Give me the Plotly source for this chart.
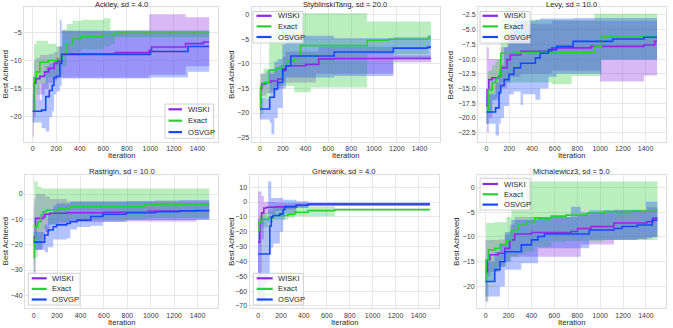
import plotly.graph_objects as go

# ---------------- data (iteration, mean, lower, upper) -----------------
METHODS = ["WISKI", "Exact", "OSVGP"]
TITLES = ["Ackley, sd = 4.0", "StyblinskiTang, sd = 20.0", "Levy, sd = 10.0",
          "Rastrigin, sd = 10.0", "Griewank, sd = 4.0", "Michalewicz3, sd = 5.0"]
X_TITLE = "Iteration"
Y_TITLE = "Best Achieved"
X_TICKS = [0, 200, 400, 600, 800, 1000, 1200, 1400]

ACKLEY_WISKI = [(0, -19, -23.5, -16), (10, -14, -20, -10), (25, -13.2, -17, -9.5), (60, -12.8, -16, -9),
                (100, -12, -15, -9), (135, -11.4, -14, -8.8), (180, -10.5, -13.5, -8.5), (210, -10.1, -13, -7.5),
                (250, -8.8, -13, -4.7), (700, -8.6, -13, -4.7), (990, -8.2, -12.5, -1.8), (1010, -7.6, -12.5, -1.8),
                (1300, -7.0, -11, -2.3), (1450, -6.7, -11, -2.3), (1500, -6.7, -11, -2.3)]
ACKLEY_EXACT = [(0, -19, -21, -16), (10, -13, -17, -7), (30, -12, -16, -6.5), (60, -10.3, -14, -6.5),
                (130, -10, -13, -7), (200, -9.8, -12.5, -7.5), (250, -8.8, -11, -4.5), (290, -7, -9, -3.5),
                (340, -6.2, -8.5, -3), (410, -5.8, -8, -2.8), (600, -5.5, -7.5, -2.5), (660, -5.5, -7, -4.7),
                (700, -5.1, -5.8, -4.6), (1500, -5.1, -5.8, -4.6)]
ACKLEY_OSVGP = [(0, -19, -21, -17), (75, -18.8, -22, -14), (110, -16.4, -22.6, -11), (140, -15.3, -20, -10.5),
                (165, -14.4, -19, -10.5), (180, -13, -16, -10), (200, -12.8, -15.5, -9.5), (230, -10.5, -14.5, -2.8),
                (245, -8.9, -13.2, -4.7), (1000, -8.4, -13, -4.7), (1320, -7.5, -12, -4.7), (1500, -7.5, -12, -4.7)]

STYB_WISKI = [(0, -19, -21, -17), (5, -15.1, -18, -12), (15, -14.1, -16.5, -12), (50, -13.8, -16, -11.5),
              (95, -13.5, -15.5, -11), (155, -13.1, -15, -10.5), (200, -11.4, -13.8, -8.5), (225, -10.4, -13.8, -7.5),
              (400, -10.1, -13.8, -7.5), (490, -10.1, -12, -7.5), (515, -9.0, -12, -6.5), (650, -8.9, -12, -6.5),
              (1170, -8.9, -9.7, -8.3), (1500, -8.9, -9.7, -8.3)]
STYB_EXACT = [(0, -19, -21, -17), (5, -14.5, -20.2, -12), (30, -13.8, -17, -11), (80, -11.3, -16, -3.9),
              (140, -10.9, -14.5, -2.9), (190, -10.4, -14.5, -2.9), (240, -9.4, -14.5, 0.3), (300, -8.7, -15.8, 0.3),
              (355, -6.3, -15.8, 0.3), (445, -6.3, -14.8, 0.3), (940, -5.2, -8, -1.4), (1130, -5.0, -8, -1.4),
              (1480, -4.6, -7, -1.4), (1500, -4.6, -7, -1.4)]
STYB_OSVGP = [(0, -19.2, -21.3, -17), (85, -16.8, -22, -12), (100, -16.8, -24.3, -12), (125, -15.1, -21, -9.5),
              (155, -13.8, -19, -9), (198, -11.1, -15, -6), (227, -10.4, -12.8, -4.3), (270, -8.4, -12.8, -4.3),
              (650, -7.6, -12.5, -4.8), (1170, -6.8, -9, -4.6), (1470, -6.6, -9, -4.2), (1500, -6.6, -9, -4.2)]

LEVY_WISKI = [(0, -18, -21, -16), (5, -15.2, -22.5, -8), (20, -13.5, -20, -10), (50, -13.2, -17, -10),
              (110, -12.9, -16, -10), (125, -11.5, -15, -8), (180, -10.1, -14, -6), (210, -9.3, -13, -5),
              (300, -8.7, -12.5, -4), (575, -8.1, -12, -3.5), (920, -7.85, -12, -3.5), (1000, -7.85, -13.8, -3.5),
              (1385, -7.6, -12.8, -3.5), (1480, -7.0, -12.8, -3.5), (1500, -7.0, -12.8, -3.5)]
LEVY_EXACT = [(0, -19, -21, -17), (15, -15.2, -19, -12), (50, -14, -17, -11), (80, -13.5, -16.5, -10.5),
              (95, -13.1, -16, -10.1), (125, -9, -14, -3.3), (255, -8.9, -14, -3.3), (575, -8.9, -14.3, -3.3),
              (750, -8.9, -12.9, -3.3), (950, -7.85, -12.9, -2.3), (1010, -6.2, -10.1, -2.3), (1500, -6.2, -10.1, -2.3)]
LEVY_OSVGP = [(0, -19, -21, -16), (80, -18.3, -23, -14), (110, -15.7, -21, -12), (125, -14.5, -20, -11),
              (155, -13.5, -18, -8), (197, -12.6, -16, -5.5), (240, -11.5, -15.5, -3.5), (300, -10.7, -17.8, -3.5),
              (320, -10.7, -16, -3.5), (430, -9.8, -16.9, -3.3), (473, -9.0, -15, -3.1), (545, -8.4, -13, -3.1),
              (617, -7.85, -12.5, -3.1), (762, -7.0, -12.5, -3.0), (1010, -7.0, -10.1, -3.0), (1110, -6.6, -10.1, -3.0),
              (1385, -6.3, -10.1, -3.0), (1500, -6.3, -10.1, -3.0)]

RAST_WISKI = [(0, -19, -42.7, -5), (5, -16.8, -31, -2), (15, -9.6, -22, 0), (80, -9.2, -18, 0),
              (95, -8, -15, -1), (137, -7.6, -12, -2), (283, -7.4, -11, -3), (600, -7.2, -10.8, -3),
              (980, -6.7, -10.8, -3), (1390, -6.5, -10, -3), (1500, -6.5, -10, -3)]
RAST_EXACT = [(0, -25, -28, -22), (5, -18, -31, 5), (15, -12.9, -25, 4.9), (35, -10.9, -22, 3),
              (64, -8.3, -18, 2.2), (80, -7.0, -14, 2.2), (108, -6.3, -12, 2.2), (210, -5.7, -11, 2.2),
              (312, -5.0, -10, 2.2), (950, -4.1, -9.5, 2.2), (1500, -4.1, -9.5, 2.2)]
RAST_OSVGP = [(0, -19, -22, -15), (93, -16.2, -23, -12), (122, -14.2, -21, -8), (166, -12.9, -18, -4.5),
              (195, -12.2, -18, -3.7), (283, -11.6, -17.5, -3.7), (312, -10.9, -14, -3), (370, -10.3, -13, -3),
              (487, -8.9, -12.5, -3), (590, -8.0, -11, -3), (790, -7.4, -10.3, -2.8), (1040, -7.0, -10.3, -2.6),
              (1245, -6.6, -10.3, -2.4), (1500, -6.6, -10.3, -2.4)]

GRIE_WISKI = [(0, -27, -62, 7.1), (15, -14, -50, 7.1), (30, -7.3, -25, 4), (50, -4, -12, 0),
              (75, -3.5, -8, 0), (150, -3.3, -6, -0.5), (233, -2.9, -5, -0.5), (330, -2.2, -3.5, -0.5),
              (440, -1.7, -2.5, -0.8), (1500, -1.7, -2.5, -0.8)]
GRIE_EXACT = [(0, -19, -24, -13), (10, -14, -19, -9), (29, -11.8, -17, -7.3), (88, -10.7, -14, -6),
              (131, -9.1, -12, -4), (262, -8.4, -10.5, -4), (320, -6.9, -9.6, -2.9), (437, -5.8, -9.6, -2.9),
              (670, -5.1, -5.6, -4.5), (1500, -5.1, -5.6, -4.5)]
GRIE_OSVGP = [(0, -35, -67.5, -11), (60, -35, -55, -11), (88, -35, -50, 13.8), (102, -16.2, -35, 13.8),
              (115, -10, -30.7, 2.7), (131, -9.1, -28, 2.7), (190, -8, -20, 2.7), (219, -5.1, -12, 1.5),
              (233, -3.3, -8, 1.5), (335, -2.2, -4, 0.5), (437, -1.3, -2.5, -0.3), (1500, -1.3, -2.5, -0.3)]

MICH_WISKI = [(0, -17, -23.2, -10.6), (17, -14.6, -18, -10.6), (38, -13.6, -17, -10.6), (110, -13.3, -16, -10.5),
              (168, -12.3, -15, -9.5), (211, -10.6, -14, -7.5), (254, -9.4, -14, -6), (400, -9.1, -14, -6),
              (745, -8.9, -14, -6), (803, -8.3, -14, -5.5), (830, -8.3, -11.5, -5.5), (920, -7.9, -11.5, -5),
              (1120, -7.2, -10.5, -4.5), (1410, -6.9, -10, -4), (1460, -6.2, -10, -4), (1500, -6.2, -10, -4)]
MICH_EXACT = [(0, -19, -22, -16), (5, -14.6, -23, -7.2), (25, -12.6, -19, -7.2), (80, -12.3, -17, -7),
              (125, -11.6, -16, -7), (182, -10.6, -15, -6), (225, -8.6, -14, -3.2), (283, -7.6, -13.5, -3.2),
              (355, -6.9, -13, 1.2), (428, -6.2, -12, 1.2), (572, -5.8, -11, 1.2), (702, -5.6, -10.8, 1.2),
              (890, -5.2, -10.9, 1.2), (1035, -4.9, -10.6, 1.2), (1266, -4.8, -10.6, 1.2), (1480, -4.6, -10.6, 1.2),
              (1500, -4.6, -10.6, 1.2)]
MICH_OSVGP = [(0, -19, -22, -15), (80, -16.6, -22, -13), (125, -15, -20, -11.3), (168, -13, -16.6, -9),
              (225, -13, -16.6, -6.6), (312, -11.6, -15.3, -6.6), (400, -10.6, -15.3, -6.6), (457, -9.9, -12.3, -6),
              (514, -9.4, -12.3, -6), (745, -9.4, -12.3, -3.9), (830, -9.4, -12.3, -5), (905, -8.6, -10.6, -4.6),
              (1120, -8.3, -10.6, -4.6), (1190, -7.9, -10.6, -4.6), (1325, -7.6, -10.3, -4.6),
              (1400, -7.6, -10.3, -2.9), (1455, -6.6, -10, -2.9), (1500, -6.6, -10, -2.9)]

PANEL_DATA = [
    (ACKLEY_WISKI, ACKLEY_EXACT, ACKLEY_OSVGP),
    (STYB_WISKI, STYB_EXACT, STYB_OSVGP),
    (LEVY_WISKI, LEVY_EXACT, LEVY_OSVGP),
    (RAST_WISKI, RAST_EXACT, RAST_OSVGP),
    (GRIE_WISKI, GRIE_EXACT, GRIE_OSVGP),
    (MICH_WISKI, MICH_EXACT, MICH_OSVGP),
]

# ---------------- styling / layout -----------------
W, H = 673, 328
LINE_COLORS = ["#8a2be2", "#2fcc3a", "#1748ff"]
FILL_COLORS = ["rgba(138,43,226,0.33)", "rgba(47,204,58,0.33)", "rgba(23,72,255,0.33)"]
FONT = "Liberation Sans, Arial, sans-serif"
TXT = "#262626"
TICK_SIZE = 7
LABEL_SIZE = 7.6

# pixel boxes (left, right, top, bottom)
BOXES = [(24, 218, 7.3, 142), (251.5, 439.5, 7.3, 142), (478, 665.5, 7.3, 142),
         (25, 218, 175, 308.3), (249.5, 438.5, 175, 308.3), (477, 666, 175, 308.3)]
TITLE_Y = [4.0, 4.0, 4.0, 171, 171, 171]
XTITLE_Y = [155.5, 155.5, 155.5, 322.5, 322.5, 322.5]
YTITLE_X = [5.5, 232, 450.5, 5.5, 232, 457]
Y_RANGES = [(-24.45, -0.55), (-25.9, 1.5), (-24.1, -1.2), (-45.1, 7.5), (-71.6, 18.2), (-24.4, 2.5)]
Y_DTICK = [5, 5, 2.5, 10, 10, 5]
Y_FMT = ["d", "d", ".1f", "d", "d", "d"]
# legend boxes in px: (left, right, top, bottom, first item y, item step, line x0, line x1, text x)
LEGENDS = [(165, 213.5, 104, 138.3, 109.3, 11.4, 168.5, 182, 186),
           (253, 303, 11.5, 43, 15.8, 10.6, 256.5, 271.5, 275.5),
           (480, 530, 11.5, 43, 15.8, 10.6, 482.5, 498, 502),
           (28.3, 80, 273.3, 305, 278.3, 10.6, 31.7, 46.7, 50),
           (253.3, 303.3, 273.3, 305, 278.3, 10.6, 256.7, 272.7, 276),
           (480, 530, 178.3, 210, 184, 10.3, 482.5, 498, 502)]

fig = go.Figure()
shapes, annotations = [], []

for p, series in enumerate(PANEL_DATA):
    sfx = "" if p == 0 else str(p + 1)
    xa, ya = "x" + sfx, "y" + sfx
    # bands
    for k, data in enumerate(series):
        it = [d[0] for d in data]
        lo = [d[2] for d in data]
        hi = [d[3] for d in data]
        fig.add_trace(go.Scatter(x=it, y=lo, xaxis=xa, yaxis=ya, mode="lines", line=dict(width=0, shape="hv"),
                                 showlegend=False, hoverinfo="skip"))
        fig.add_trace(go.Scatter(x=it, y=hi, xaxis=xa, yaxis=ya, mode="lines", line=dict(width=0, shape="hv"),
                                 fill="tonexty", fillcolor=FILL_COLORS[k], showlegend=False, hoverinfo="skip"))
    # means
    for k, data in enumerate(series):
        it = [d[0] for d in data]
        m = [d[1] for d in data]
        fig.add_trace(go.Scatter(x=it, y=m, xaxis=xa, yaxis=ya, mode="lines", name=METHODS[k],
                                 line=dict(color=LINE_COLORS[k], width=1.6, shape="hv"), showlegend=False))

    l, r, t, b = BOXES[p]
    axis_common = dict(showgrid=True, gridcolor="#e8e8e8", gridwidth=1, zeroline=False, showline=True,
                       linecolor="#dedede", linewidth=1, mirror=True, ticks="", automargin=False,
                       tickfont=dict(size=TICK_SIZE, color="#3a3a3a", family=FONT))
    fig.layout["xaxis" + sfx] = dict(axis_common, domain=[l / W, r / W], anchor=ya, range=[-75, 1575],
                                     tickvals=X_TICKS)
    fig.layout["yaxis" + sfx] = dict(axis_common, domain=[1 - b / H, 1 - t / H], anchor=xa, range=list(Y_RANGES[p]),
                                     dtick=Y_DTICK[p], tickformat=Y_FMT[p])
    annotations.append(dict(text=TITLES[p], x=(l + r) / 2 / W, y=1 - TITLE_Y[p] / H, xref="paper", yref="paper",
                            xanchor="center", yanchor="middle", showarrow=False,
                            font=dict(size=LABEL_SIZE, color=TXT, family=FONT)))
    annotations.append(dict(text=X_TITLE, x=(l + r) / 2 / W, y=1 - XTITLE_Y[p] / H, xref="paper", yref="paper",
                            xanchor="center", yanchor="middle", showarrow=False,
                            font=dict(size=LABEL_SIZE, color=TXT, family=FONT)))
    annotations.append(dict(text=Y_TITLE, x=YTITLE_X[p] / W, y=1 - (t + b) / 2 / H, xref="paper", yref="paper",
                            xanchor="center", yanchor="middle", showarrow=False, textangle=-90,
                            font=dict(size=LABEL_SIZE, color=TXT, family=FONT)))

    # legend drawn as shapes + text
    L0, L1, T0, B0, y0, dy, lx0, lx1, tx = LEGENDS[p]
    shapes.append(dict(type="rect", xref="paper", yref="paper", x0=L0 / W, x1=L1 / W, y0=1 - B0 / H, y1=1 - T0 / H,
                       line=dict(color="#d0d0d0", width=1), fillcolor="rgba(255,255,255,0.8)", layer="above"))
    for k, name in enumerate(METHODS):
        yy = 1 - (y0 + k * dy) / H
        shapes.append(dict(type="line", xref="paper", yref="paper", x0=lx0 / W, x1=lx1 / W, y0=yy, y1=yy,
                           line=dict(color=LINE_COLORS[k], width=2.2), layer="above"))
        annotations.append(dict(text=name, x=tx / W, y=yy, xref="paper", yref="paper", xanchor="left",
                                yanchor="middle", showarrow=False, font=dict(size=LABEL_SIZE, color=TXT, family=FONT)))

fig.update_layout(width=W, height=H, margin=dict(l=0, r=0, t=0, b=0), paper_bgcolor="white",
                  plot_bgcolor="white", shapes=shapes, annotations=annotations, showlegend=False,
                  font=dict(family=FONT))
fig.write_html("out.html", config={"displayModeBar": False},
               post_script="document.body.style.margin='0';document.body.style.overflow='hidden';")
